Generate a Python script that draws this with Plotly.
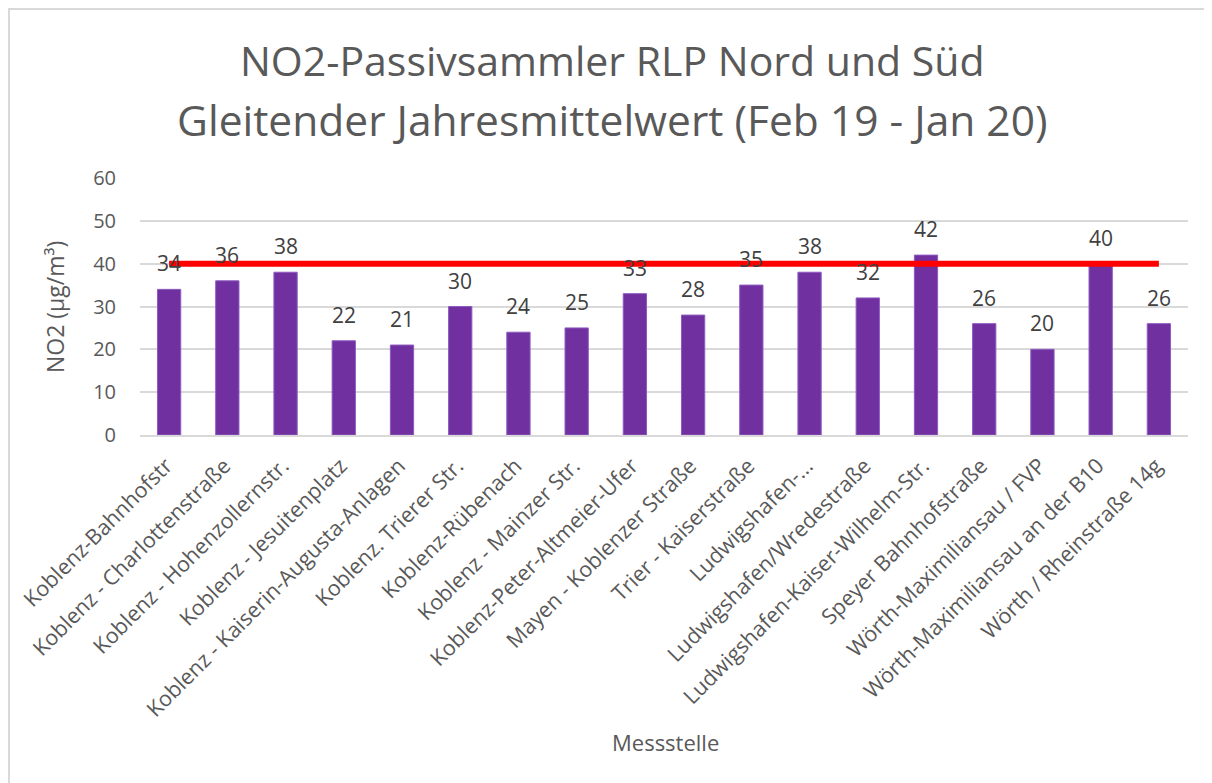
import plotly.graph_objects as go

stations = [
    "Koblenz-Bahnhofstr",
    "Koblenz - Charlottenstraße",
    "Koblenz - Hohenzollernstr.",
    "Koblenz - Jesuitenplatz",
    "Koblenz - Kaiserin-Augusta-Anlagen",
    "Koblenz. Trierer Str.",
    "Koblenz-Rübenach",
    "Koblenz - Mainzer Str.",
    "Koblenz-Peter-Altmeier-Ufer",
    "Mayen - Koblenzer Straße",
    "Trier - Kaiserstraße",
    "Ludwigshafen-...",
    "Ludwigshafen/Wredestraße",
    "Ludwigshafen-Kaiser-Wilhelm-Str.",
    "Speyer Bahnhofstraße",
    "Wörth-Maximiliansau / FVP",
    "Wörth-Maximiliansau an der B10",
    "Wörth / Rheinstraße 14g",
]
no2_values = [34, 36, 38, 22, 21, 30, 24, 25, 33, 28, 35, 38, 32, 42, 26, 20, 40, 26]
limit_value = [40] * len(stations)
y_ticks = [0, 10, 20, 30, 40, 50, 60]
title_lines = ["NO2-Passivsammler RLP Nord und Süd",
               "Gleitender Jahresmittelwert (Feb 19 - Jan 20)"]

FONT = "Open Sans"
GREY = "#595959"
W, H = 1212, 783
OFF = 8  # page body margin
# plot area in screen pixels: x 140..1188, y 178..435
L, T = 140 - OFF, 178 - OFF
R = W - (1188 - OFF)
B = H - (435 - OFF)
PW, PH = W - L - R, H - T - B


def px_x(p):
    return (p - OFF - L) / PW


def px_y(p):
    return (T + PH - (p - OFF)) / PH


fig = go.Figure()
fig.add_trace(go.Bar(
    x=stations, y=no2_values,
    marker=dict(color="#7030A0", line=dict(width=1, color="#8E5CC0")),
    showlegend=False, hoverinfo="x+y",
))
fig.add_trace(go.Scatter(
    x=stations, y=limit_value, mode="lines",
    line=dict(color="#FF0000", width=6), showlegend=False,
))

annotations = []
for s, v in zip(stations, no2_values):
    annotations.append(dict(
        x=s, y=v, xref="x", yref="y", text=str(v), showarrow=False,
        yshift=26, yanchor="middle",
        font=dict(family=FONT, size=21, color="#404040"),
    ))
for i, (line, size) in enumerate(zip(title_lines, [41, 42.5])):
    annotations.append(dict(
        x=px_x(612), y=px_y(60 + 60 * i), xref="paper", yref="paper",
        text=line, showarrow=False, xanchor="center", yanchor="middle",
        font=dict(family=FONT, size=size, color=GREY),
    ))
annotations.append(dict(
    x=px_x(665), y=px_y(742), xref="paper", yref="paper", text="Messstelle",
    showarrow=False, xanchor="center", yanchor="middle",
    font=dict(family=FONT, size=22, color=GREY),
))
annotations.append(dict(
    x=px_x(55), y=px_y(307), xref="paper", yref="paper", text="NO2 (µg/m³)",
    showarrow=False, xanchor="center", yanchor="middle", textangle=-90,
    font=dict(family=FONT, size=23, color=GREY),
))

fig.update_layout(
    width=W, height=H,
    margin=dict(l=L, r=R, t=T, b=B, autoexpand=False),
    paper_bgcolor="white", plot_bgcolor="white",
    bargap=0.6,
    font=dict(family=FONT, color=GREY),
    annotations=annotations,
)
fig.update_yaxes(
    range=[0, 60], tickvals=y_ticks, showgrid=True, gridcolor="#D9D9D9", gridwidth=1.5,
    zeroline=False, showline=False, ticks="", ticklabelstandoff=23, automargin=False,
    tickfont=dict(family=FONT, size=20, color=GREY),
)
fig.update_xaxes(
    tickangle=-45, showgrid=False, showline=True, linecolor="#D9D9D9", linewidth=1.5,
    ticks="", tickfont=dict(family=FONT, size=21.5, color=GREY), automargin=False,
    ticklabelshift=-3, ticklabelstandoff=8,
)
fig.add_shape(
    type="rect", xref="paper", yref="paper",
    x0=px_x(9), x1=px_x(1240), y0=px_y(800), y1=px_y(9),
    line=dict(color="#D9D9D9", width=2), fillcolor="rgba(0,0,0,0)", layer="below",
)

fig.write_html("out.html")
